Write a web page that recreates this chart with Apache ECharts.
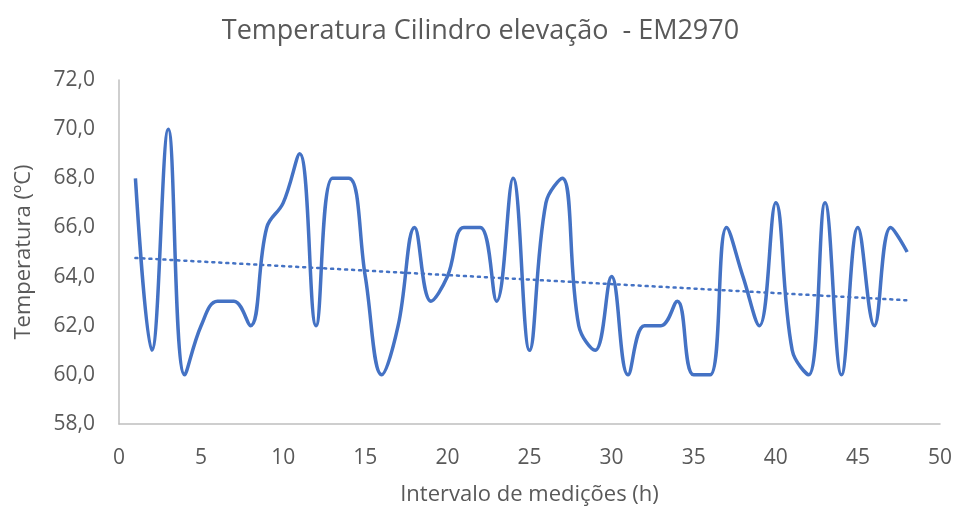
<!DOCTYPE html>
<html>
<head>
<meta charset="utf-8">
<script src="https://cdn.jsdelivr.net/npm/echarts@6/dist/echarts.min.js"></script>
<style>html,body{margin:0;padding:0;background:#fff;}#c{width:961px;height:514px;}</style>
</head>
<body>
<div id="c"></div>
<script>
const hours = [1,2,3,4,5,6,7,8,9,10,11,12,13,14,15,16,17,18,19,20,21,22,23,24,25,26,27,28,29,30,31,32,33,34,35,36,37,38,39,40,41,42,43,44,45,46,47,48];
const temperatures = [68,61,70,60,62,63,63,62,66,67,69,62,68,68,64,60,62,66,63,64,66,66,63,68,61,67,68,62,61,64,60,62,62,63,60,60,66,64,62,67,61,60,67,60,66,62,66,65];
const title = 'Temperatura Cilindro elevação  - EM2970';
const xName = 'Intervalo de medições (h)';
const yName = 'Temperatura (ºC)';

// linear least-squares trendline from the data
const n = hours.length;
const mx = hours.reduce((a,b)=>a+b,0)/n;
const my = temperatures.reduce((a,b)=>a+b,0)/n;
let sxy=0, sxx=0;
for(let i=0;i<n;i++){sxy+=(hours[i]-mx)*(temperatures[i]-my);sxx+=(hours[i]-mx)*(hours[i]-mx);}
const slope = sxy/sxx, icpt = my - slope*mx;
const trend = [[hours[0], icpt+slope*hours[0]],[hours[n-1], icpt+slope*hours[n-1]]];

const font = "'Open Sans', 'Noto Sans', sans-serif";
const grey = '#595959';
const chart = echarts.init(document.getElementById('c'));
chart.setOption({
  animation:false,
  title:{text:title,left:'center',top:13,textStyle:{fontFamily:font,fontSize:27,fontWeight:'normal',color:grey}},
  grid:{left:119,right:21,top:80,bottom:90},
  xAxis:{type:'value',min:0,max:50,interval:5,
    name:xName,nameLocation:'middle',nameGap:60,nameTextStyle:{fontFamily:font,fontSize:22,color:grey},
    axisLine:{lineStyle:{color:'#BFBFBF',width:1.5}},axisTick:{show:false},splitLine:{show:false},
    axisLabel:{fontFamily:font,fontSize:21,color:grey,margin:24}},
  yAxis:{type:'value',min:58,max:72,interval:2,
    name:yName,nameLocation:'middle',nameGap:84,nameTextStyle:{fontFamily:font,fontSize:22,color:grey},
    axisLine:{show:true,lineStyle:{color:'#BFBFBF',width:1.5}},axisTick:{show:false},splitLine:{show:false},
    axisLabel:{fontFamily:font,fontSize:21,color:grey,margin:24,formatter:v=>v.toFixed(1).replace('.',',')}},
  series:[
    {type:'line',data:hours.map((h,i)=>[h,temperatures[i]]),smooth:0.4,showSymbol:false,
     lineStyle:{color:'#4472C4',width:3.5},itemStyle:{color:'#4472C4'}},
    {type:'line',data:trend,showSymbol:false,
     lineStyle:{color:'#4472C4',width:2.5,type:[2,5],cap:'round'}}
  ]
});
</script>
</body>
</html>
